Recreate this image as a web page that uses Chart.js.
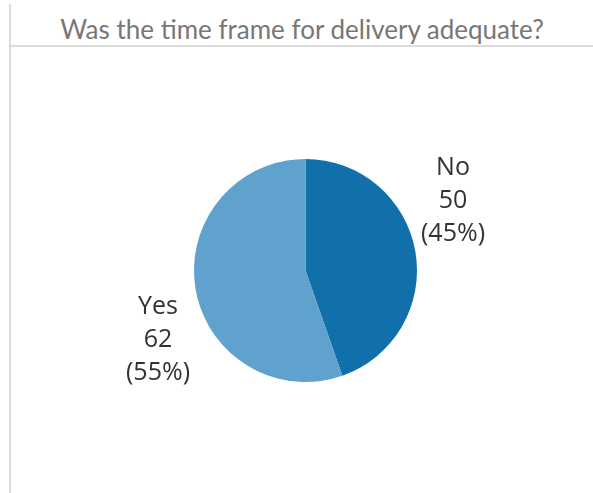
<!DOCTYPE html>
<html>
<head>
<meta charset="utf-8">
<script src="https://cdn.jsdelivr.net/npm/chart.js@4/dist/chart.umd.min.js"></script>
<style>
  html, body { margin: 0; padding: 0; background: #fff; }
  #wrap { position: relative; width: 593px; height: 493px; overflow: hidden; }
  #frame { position: absolute; left: 9px; top: 4px; width: 600px; height: 500px;
           border-left: 2px solid #dcdcdc; }
  #rule { position: absolute; left: 9px; top: 45px; width: 600px; border-top: 2px solid #dcdcdc; }
  #title { position: absolute; left: 11px; right: 0; top: 13px; text-align: center;
           font-family: Lato, sans-serif; font-size: 26px; color: #777; }
  #chartBox { position: absolute; left: 0; top: 0; width: 593px; height: 493px; }
</style>
</head>
<body>
<div id="wrap">
  <div id="frame"></div>
  <div id="rule"></div>
  <div id="title">Was the time frame for delivery adequate?</div>
  <div id="chartBox"><canvas id="myChart"></canvas></div>
</div>
<script>
// data
const categories = ['No', 'Yes'];
const counts = [50, 62];
const sliceColors = ['#1170aa', '#5fa2ce'];

// labels: name, count and share, placed beside each slice
const sliceLabels = {
    id: 'sliceLabels',
    afterDatasetsDraw(chart) {
        const ctx = chart.ctx;
        const meta = chart.getDatasetMeta(0);
        const total = counts.reduce((a, b) => a + b, 0);
        ctx.save();
        ctx.font = '25px "Open Sans", sans-serif';
        ctx.fillStyle = '#333';
        ctx.textAlign = 'center';
        ctx.textBaseline = 'middle';
        meta.data.forEach((arc, i) => {
            const mid = (arc.startAngle + arc.endAngle) / 2;
            const side = Math.cos(mid) >= 0 ? 1 : -1;
            const x = arc.x + side * (arc.outerRadius + 36);
            const y = arc.y - side * arc.outerRadius * 0.62;
            const pct = Math.round(counts[i] / total * 100);
            const lines = [categories[i], String(counts[i]), '(' + pct + '%)'];
            lines.forEach((t, k) => ctx.fillText(t, x, y + (k - 1) * 33));
        });
        ctx.restore();
    }
};

const ctx = document.getElementById('myChart').getContext('2d');
new Chart(ctx, {
    type: 'pie',
    data: {
        labels: categories,
        datasets: [{
            data: counts,
            backgroundColor: sliceColors,
            borderWidth: 0
        }]
    },
    options: {
        responsive: true,
        maintainAspectRatio: false,
        animation: false,
        layout: {
            padding: { left: 194, right: 176, top: 159, bottom: 111 }
        },
        plugins: {
            legend: { display: false },
            tooltip: { enabled: false }
        }
    },
    plugins: [sliceLabels]
});
</script>
</body>
</html>
